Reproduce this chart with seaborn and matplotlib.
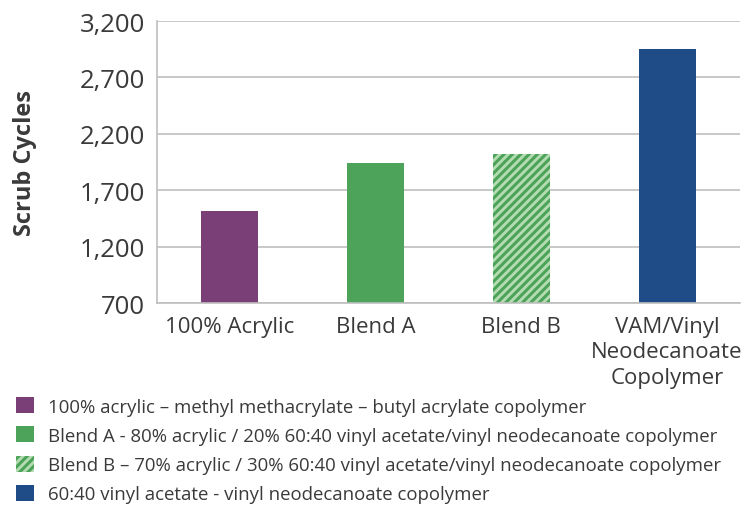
import matplotlib
matplotlib.use("Agg")
import matplotlib.pyplot as plt
from matplotlib.patches import Patch
import seaborn as sns
import pandas as pd

# Scrub resistance of the four binder systems
categories = ["100% Acrylic", "Blend A", "Blend B", "VAM/Vinyl\nNeodecanoate\nCopolymer"]
scrub_cycles = [1520, 1940, 2020, 2950]
legend_labels = [
    "100% acrylic \u2013 methyl methacrylate \u2013 butyl acrylate copolymer",
    "Blend A - 80% acrylic / 20% 60:40 vinyl acetate/vinyl neodecanoate copolymer",
    "Blend B \u2013 70% acrylic / 30% 60:40 vinyl acetate/vinyl neodecanoate copolymer",
    "60:40 vinyl acetate - vinyl neodecanoate copolymer",
]
y_ticks = [700, 1200, 1700, 2200, 2700, 3200]

face_colors = ["#7B3F78", "#4DA35A", "#B5DDB3", "#1F4C86"]
hatch_color = "#4DA35A"
text_color = "#3A3A3A"
grid_color = "#BFBFBF"

sns.set_theme(style="white")
plt.rcParams["font.family"] = ["Open Sans", "DejaVu Sans"]
plt.rcParams["hatch.linewidth"] = 2.2

df = pd.DataFrame({"category": categories, "cycles": scrub_cycles})

fig = plt.figure(figsize=(7.47, 5.06), dpi=100)
ax = fig.add_axes([156.5 / 747, 0.399, 583.5 / 747, 0.5575])

sns.barplot(data=df, x="category", y="cycles", hue="category",
            palette=face_colors, width=0.39, legend=False, ax=ax,
            saturation=1)

# Bars rise from the 700 baseline
for bar, val in zip(ax.patches, scrub_cycles):
    bar.set_y(y_ticks[0])
    bar.set_height(val - y_ticks[0])
    bar.set_linewidth(0)

# Striped fill for Blend B
striped = ax.patches[2]
striped.set_hatch("////")
striped.set_edgecolor(hatch_color)
striped.set_linewidth(0)

ax.set_ylim(y_ticks[0], y_ticks[-1])
ax.set_xlim(-0.5, len(categories) - 0.5)
ax.set_yticks(y_ticks)
ax.set_yticklabels([f"{v:,}" for v in y_ticks], fontsize=18.5, color=text_color)
ax.yaxis.grid(True, color=grid_color, linewidth=1.2)
ax.set_axisbelow(True)

ax.set_xticks(range(len(categories)))
ax.set_xticklabels(categories, fontsize=16, color=text_color, linespacing=1.3)
ax.tick_params(axis="x", which="major", length=0, pad=9)
ax.set_xticks([i - 0.5 for i in range(len(categories) + 1)], minor=True)
ax.tick_params(axis="x", which="minor", length=5, color=grid_color, width=1.2)
ax.tick_params(axis="y", length=5, color=grid_color, width=1.2, pad=3)

for side in ["top", "right"]:
    ax.spines[side].set_visible(False)
for side in ["left", "bottom"]:
    ax.spines[side].set_color(grid_color)
    ax.spines[side].set_linewidth(1.2)

ax.set_xlabel("")
ax.set_ylabel("Scrub Cycles", fontsize=17, fontweight="bold", color=text_color)
ax.yaxis.set_label_coords(-0.205, 0.5)

handles = []
for i, col in enumerate(face_colors):
    if i == 2:
        handles.append(Patch(facecolor=col, edgecolor=hatch_color, hatch="////", linewidth=0))
    else:
        handles.append(Patch(facecolor=col, linewidth=0))

fig.legend(handles, legend_labels, loc="upper left", bbox_to_anchor=(0.012, 0.228),
           frameon=False, fontsize=13.4, handlelength=0.95, handleheight=0.95,
           handletextpad=0.75, labelspacing=0.58, borderaxespad=0, labelcolor=text_color)

fig.savefig("out.png", dpi=100)
